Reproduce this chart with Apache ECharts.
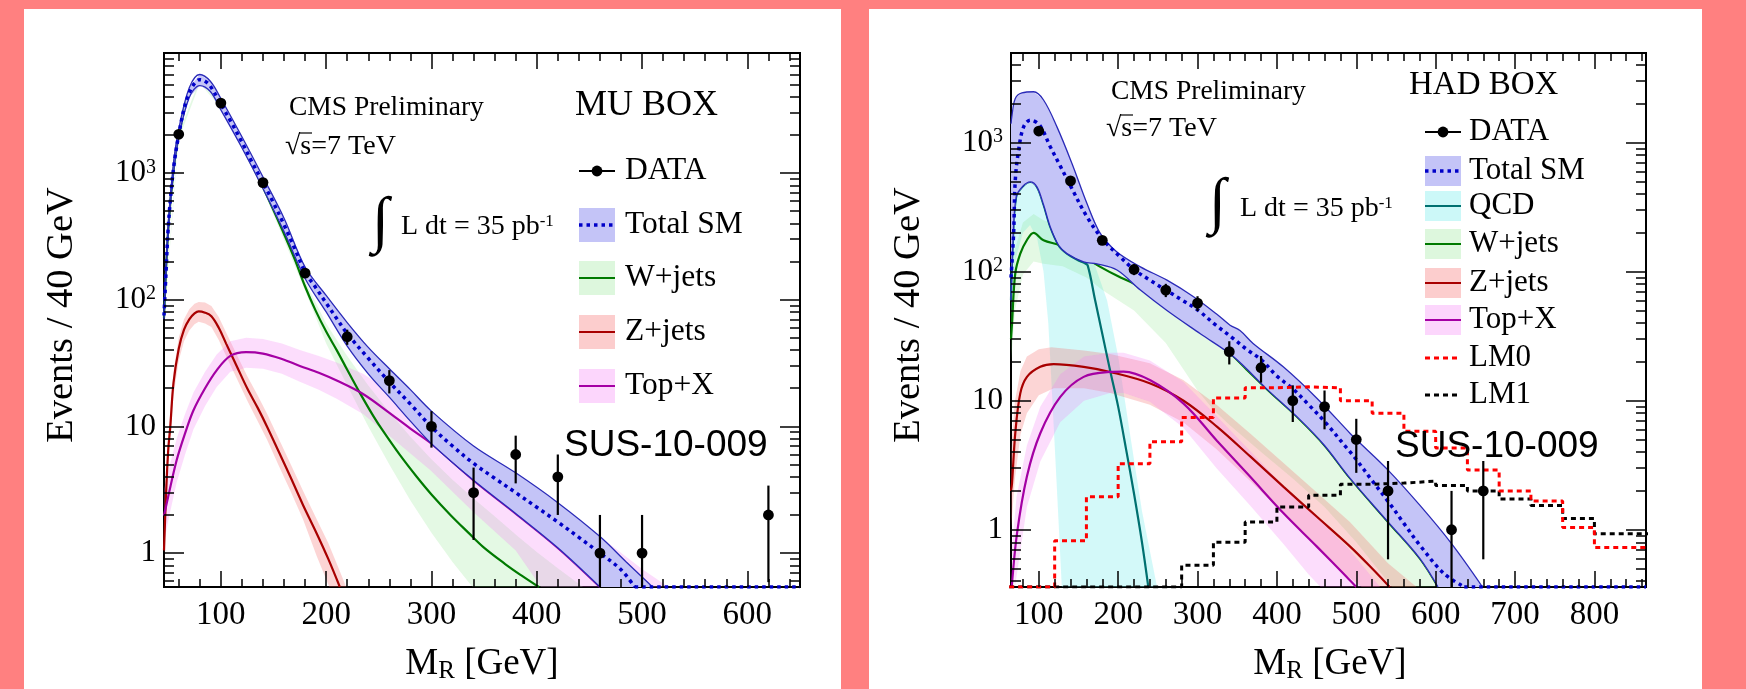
<!DOCTYPE html>
<html><head><meta charset="utf-8">
<script src="https://cdn.jsdelivr.net/npm/echarts@6/dist/echarts.min.js"></script>
<style>
html,body{margin:0;padding:0;background:#ff8080;overflow:hidden;}
#p1{position:absolute;left:24px;top:9px;width:817px;height:680px;background:#fff;}
#p2{position:absolute;left:869px;top:9px;width:833px;height:680px;background:#fff;}
#c{position:absolute;left:0;top:0;width:1746px;height:689px;}
</style>
</head><body><div id="p1"></div><div id="p2"></div><div id="c"></div>
<script>
// ================= MU BOX (left) =================
const muXRange = [46, 650];
const muYRange = [0.54, 8850];
const muXMajor = [100, 200, 300, 400, 500, 600];
const muXMinor = [60, 80, 120, 140, 160, 180, 220, 240, 260, 280, 320, 340, 360, 380, 420, 440, 460, 480, 520, 540, 560, 580, 620, 640];
const muYMajor = [1, 10, 100, 1000];
const muYMinor = [0.6, 0.7, 0.8, 0.9, 2, 3, 4, 5, 6, 7, 8, 9, 20, 30, 40, 50, 60, 70, 80, 90, 200, 300, 400, 500, 600, 700, 800, 900, 2000, 3000, 4000, 5000, 6000, 7000, 8000];

const muX = [60, 100, 140, 180, 220, 260, 300, 340, 380, 420, 460, 500, 620];
const muY = [2020, 3560, 840, 162, 51, 23, 10, 3, 6, 4, 1, 1, 2];
const muYLo = [1975, 3500, 811, 149, 44, 18.2, 6.8, 1.27, 3.55, 2, 0, 0, 0.59];
const muYHi = [2065, 3620, 869, 175, 58, 27.8, 13.2, 4.73, 8.45, 6, 2, 2, 3.41];

const muTotal = [[46,75],[48,170],[50,370],[53,750],[56,1250],[60,2000],[65,3200],[70,4300],[75,5100],[80,5450],[85,5300],[90,4850],[100,3500],[110,2500],[120,1750],[130,1200],[140,840],[150,580],[160,390],[170,255],[180,165],[190,125],[200,94],[210,71],[220,54],[240,34.5],[260,22.4],[280,15],[300,9.9],[320,7],[340,5.1],[360,3.9],[380,3.0],[400,2.3],[420,1.76],[440,1.33],[460,1.0],[480,0.74],[493,0.54]];
const muTotalFloor = [[493,0.54],[650,0.54]];
const muTotUp = [[46,80],[50,400],[55,1200],[60,2220],[70,4700],[80,5990],[90,5300],[100,3870],[120,1930],[140,930],[160,440],[180,181],[200,108],[220,66],[240,42],[260,28.5],[280,19.5],[300,13.2],[340,7.0],[380,4.3],[420,2.5],[460,1.35],[485,0.85],[510,0.54]];
const muTotLo = [[46,70],[50,340],[55,1000],[60,1930],[70,3950],[80,4900],[90,4400],[100,3150],[120,1580],[140,755],[160,345],[180,147],[200,80],[220,43],[240,26],[260,17],[280,11],[300,7.3],[340,3.75],[380,2.05],[420,1.1],[460,0.54]];

const muW = [[46,72],[50,355],[55,1050],[60,1950],[70,4200],[80,5300],[90,4700],[100,3350],[120,1650],[140,770],[160,330],[170,210],[180,127],[190,82],[200,56],[210,40],[220,28],[232,18.4],[245,12],[254,9.2],[270,5.95],[286,4.0],[300,2.9],[318,2.0],[335,1.45],[349,1.12],[370,0.82],[385,0.67],[402,0.54]];
const muWUp = [[46,76],[60,2050],[80,5500],[100,3450],[140,800],[180,140],[200,65],[220,36],[240,21],[260,13],[280,8.3],[300,5.5],[320,3.8],[340,2.7],[360,1.95],[380,1.4],[400,1.02],[420,0.76],[444,0.54]];
const muWLo = [[46,68],[60,1850],[80,5100],[100,3250],[140,740],[180,118],[200,45],[220,21],[240,10],[260,5.0],[280,2.6],[300,1.45],[320,0.85],[339,0.54]];

const muZ = [[46,1.05],[48,3],[50,6.5],[52,10],[55,22],[60,41],[65,58],[70,70],[75,78],[79,81],[85,79],[91,74],[98,60],[105,45],[115,30],[125,20],[135,14],[144,9.9],[155,6.3],[166,4.0],[178,2.4],[191,1.43],[202,0.9],[213,0.54]];
const muZUp = [[46,1.3],[50,8],[55,27],[60,50],[65,70],[70,84],[75,93],[79,96],[85,95],[91,89],[98,73],[105,55],[115,37],[125,25],[135,17.5],[144,12.5],[155,8],[166,5.1],[178,3.1],[191,1.85],[202,1.2],[213,0.72],[219,0.54]];
const muZLo = [[46,0.85],[50,5.3],[55,17.5],[60,33],[65,47],[70,57],[75,64],[79,67],[85,65],[91,61],[98,48],[105,36],[115,24],[125,16],[135,11],[144,7.8],[155,4.9],[166,3.1],[178,1.85],[191,0.95],[203,0.54]];

const muTop = [[46,1.98],[50,2.8],[58,5.4],[66,8.8],[74,13.4],[85,20],[96,27.7],[109,36],[124,38.5],[140,37.5],[158,34],[175,30],[193,26.5],[210,23],[235,18],[261,12.6],[280,9.6],[300,7.3],[340,3.75],[380,2.05],[420,1.1],[460,0.54]];
const muTopUp = [[46,3.2],[50,4.4],[58,8],[66,12.5],[74,18.5],[85,27],[96,37],[109,47],[124,50],[140,49],[158,45],[175,40],[193,36],[210,32],[235,26],[261,19],[280,15],[299,11.8],[340,6.8],[380,4.0],[420,2.4],[460,1.35],[500,0.75],[525,0.54]];
const muTopLo = [[46,1.2],[50,1.8],[58,3.6],[66,6.0],[74,9.5],[85,14.5],[96,20.5],[109,27],[124,29],[140,28.5],[158,26],[175,22.5],[193,19.5],[210,16.5],[235,12.5],[261,8.3],[280,6.1],[299,4.5],[340,2.1],[380,1.05],[404,0.54]];

// ================= HAD BOX (right) =================
const hadXRange = [65, 865];
const hadYRange = [0.36, 4950];
const hadXMajor = [100, 200, 300, 400, 500, 600, 700, 800];
const hadXMinor = [80, 120, 140, 160, 180, 220, 240, 260, 280, 320, 340, 360, 380, 420, 440, 460, 480, 520, 540, 560, 580, 620, 640, 660, 680, 720, 740, 760, 780, 820, 840, 860];
const hadYMajor = [1, 10, 100, 1000];
const hadYMinor = [0.4, 0.5, 0.6, 0.7, 0.8, 0.9, 2, 3, 4, 5, 6, 7, 8, 9, 20, 30, 40, 50, 60, 70, 80, 90, 200, 300, 400, 500, 600, 700, 800, 900, 2000, 3000, 4000];

const hadX = [100, 140, 180, 220, 260, 300, 340, 380, 420, 460, 500, 540, 620, 660];
const hadY = [1230, 505, 175, 104, 72, 57, 24, 18, 10, 9, 5, 2, 1, 2];
const hadYLo = [1195, 483, 162, 94, 63.5, 49.5, 19.1, 13.8, 6.84, 6, 2.76, 0.59, 0, 0.59];
const hadYHi = [1265, 527, 188, 114, 80.5, 64.5, 28.9, 22.2, 13.16, 12, 7.24, 3.41, 2, 3.41];

const hadTotal = [[65,90],[68.3,198],[70.4,513],[74.6,875],[80.9,1325],[89.3,1494],[101,1367],[114.5,929],[127,660],[140.6,454],[160.7,266],[181.6,175],[202.7,130],[220.7,103],[240,86],[260,72],[281,60],[301,50],[322,39],[343,31],[362,25],[381,20.6],[400,15.5],[420,12.4],[440,9.3],[460,6.9],[488,4.3],[500,3.5],[520,2.4],[540,1.66],[560,1.12],[580,0.76],[610,0.46],[636,0.36]];
const hadTotalFloor = [[636,0.36],[865,0.36]];
const hadTotUp = [[65,1400],[66,1585],[70.4,2200],[78.8,2430],[93.5,2480],[106,2140],[122.9,1325],[141.8,690],[160.7,338],[177.5,198],[198.5,142],[228,109],[261.5,86],[295,64],[324,47],[341,38.5],[353.5,35],[370,27.8],[408,18.3],[450,10.5],[492,5.6],[500,5.0],[540,2.9],[580,1.55],[620,0.78],[659,0.36]];
const hadTotLo = [[65,60],[67,150],[71.5,380],[80,460],[89.3,497],[97.7,454],[106,330],[114.5,222],[125,160],[135.5,138],[156.5,119],[173.3,115],[198.5,103],[228,72],[261.5,50],[303.5,33],[345.4,21.9],[387.4,12.3],[429.4,7.1],[460,4.5],[492.3,2.5],[540,1.15],[580,0.6],[603,0.36]];

const hadQCD = [[65,60],[67,150],[71.5,380],[80,460],[89.3,497],[97.7,454],[106,330],[114.5,222],[125,160],[135.5,138],[150,122],[157,117],[161.6,112],[171,60],[180,33],[190,17],[200,9],[210,4.2],[220,1.9],[230,0.8],[238,0.36]];
const hadQCDUp = [[65,250],[70,450],[80,560],[89,600],[98,540],[106,420],[115,300],[125,220],[140,170],[157,140],[170,115],[186,60],[200,22],[215,5.5],[230,1.4],[249,0.36]];
const hadQCDLo = [[65,40],[70,120],[80,200],[89,230],[98,180],[106,100],[112,40],[118,8],[124,1.5],[129,0.36]];

const hadW = [[65,30],[66.3,40],[70.4,97],[76.7,138],[85.1,176],[93.5,200],[106,175],[127,160],[156.5,130],[177.5,109],[200,92],[219.4,81],[240,68],[261.5,57],[282,46],[303.5,37],[325,28.5],[345.4,22],[362,17.4],[387.4,12.3],[429.4,7.1],[460,4.5],[492.3,2.5],[540,1.15],[580,0.6],[603,0.36]];
const hadWUp = [[65,40],[70,150],[80,240],[93.5,280],[106,250],[130,220],[160,170],[180,140],[220,108],[260,80],[300,56],[345,33],[380,20],[420,11],[460,5.6],[500,2.7],[540,1.25],[580,0.6],[603,0.36]];
const hadWLo = [[65,20],[70,50],[80,95],[93.5,120],[106,115],[130,110],[160,90],[180,72],[220,50],[260,28],[300,12],[320,8.5],[340,6.5],[380,4],[420,2.5],[460,1.5],[500,0.8],[545,0.36]];

const hadZ = [[65,2.0],[66.3,2.3],[70.4,5.6],[76.7,11.4],[85.1,15.3],[101.9,18.3],[118.7,19.2],[156.5,18.3],[190,16.7],[240.5,13.6],[282.4,10],[324.4,6.3],[366.4,3.7],[408.4,2.15],[450.4,1.26],[492.3,0.74],[520,0.5],[542,0.36]];
const hadZUp = [[65,4],[70,10],[77,17],[85,22],[100,25],[116,26],[157,24.5],[190,23],[240,19.5],[282,14.5],[324,9.3],[366,5.6],[408,3.3],[450,1.95],[492,1.15],[540,0.55],[576,0.36]];
const hadZLo = [[65,1],[70,2.5],[77,5.5],[85,8],[100,11],[119,12.5],[157,12.5],[190,11.5],[240,9.3],[282,6.8],[324,4.2],[366,2.4],[408,1.35],[450,0.75],[480,0.48],[507,0.36]];

const hadTop = [[66,0.36],[72.5,0.93],[85.1,2.6],[101.9,5.6],[127.1,10.7],[156.5,15.3],[190,16.7],[206.8,16.8],[240.5,14.4],[282.4,9.5],[324.4,4.9],[366.4,2.57],[408.4,1.34],[450.4,0.74],[488,0.43],[500,0.36]];
const hadTopUp = [[66,0.7],[72,1.8],[85,4.5],[102,9],[127,16],[157,22],[190,23.5],[207,23.5],[240,20.5],[282,14],[324,7.6],[366,4.1],[408,2.2],[450,1.25],[490,0.72],[530,0.36]];
const hadTopLo = [[70,0.36],[85,1.5],[102,3.4],[127,6.8],[157,10],[190,11.5],[207,11.5],[240,9.8],[282,6.2],[324,3.0],[366,1.55],[408,0.78],[440,0.45],[455,0.36]];

const lmEdges = [40, 80, 120, 160, 200, 240, 280, 320, 360, 400, 440, 480, 520, 560, 600, 640, 680, 720, 760, 800, 840, 880];
const lm0 = [0, 0, 0.82, 1.8, 3.25, 4.8, 7.4, 10.5, 12.6, 12.8, 12.6, 10, 8, 5.8, 4.3, 2.9, 2.0, 1.67, 1.04, 0.73, 0.73];
const lm1 = [0, 0, 0, 0, 0, 0, 0.53, 0.8, 1.15, 1.5, 1.85, 2.25, 2.3, 2.38, 2.2, 2.0, 1.73, 1.54, 1.22, 0.93, 0.93];

// ================= styling =================
const SERIF = "'Liberation Serif','DejaVu Serif',serif";
const SANS = "'Liberation Sans','DejaVu Sans',sans-serif";
const C = {
  blueFill: '#c4c4f7', blueEdge: '#2a2ab8', blueDot: '#0000c8',
  wLine: '#007a00', wFill: 'rgba(120,225,120,0.2)',
  zLine: '#a80000', zFill: 'rgba(245,100,100,0.27)',
  tLine: '#a400a4', tFill: 'rgba(245,120,245,0.25)',
  qLine: '#007070', qFill: 'rgba(110,235,235,0.3)',
  lm0: '#ff0000', lm1: '#000000'
};
const SMOOTH = 0.35;

function logLabel(v) {
  if (Math.abs(v - 1) < 1e-9) return '1';
  if (Math.abs(v - 10) < 1e-9) return '10';
  return '10{sup|' + Math.round(Math.log10(v)) + '}';
}
const tickStyle = { color: '#000', width: 1.5 };
function xAxesFor(gi, range, majors, minors) {
  const base = { type: 'value', gridIndex: gi, min: range[0], max: range[1], splitLine: { show: false }, axisLine: { show: false }, z: 10 };
  return [
    Object.assign({}, base, { position: 'bottom', axisTick: { show: true, inside: true, length: 16, customValues: majors, lineStyle: tickStyle },
      axisLabel: { show: true, customValues: majors, margin: 12, fontSize: 33, fontFamily: SERIF, color: '#000' } }),
    Object.assign({}, base, { position: 'bottom', axisTick: { show: true, inside: true, length: 8, customValues: minors, lineStyle: tickStyle }, axisLabel: { show: false } }),
    Object.assign({}, base, { position: 'top', axisTick: { show: true, inside: true, length: 16, customValues: majors, lineStyle: tickStyle }, axisLabel: { show: false } }),
    Object.assign({}, base, { position: 'top', axisTick: { show: true, inside: true, length: 8, customValues: minors, lineStyle: tickStyle }, axisLabel: { show: false } })
  ];
}
function yAxesFor(gi, range, majors, minors) {
  const base = { type: 'log', logBase: 10, gridIndex: gi, min: range[0], max: range[1], splitLine: { show: false }, axisLine: { show: false }, z: 10 };
  return [
    Object.assign({}, base, { position: 'left', axisTick: { show: true, inside: true, length: 20, customValues: majors, lineStyle: tickStyle },
      axisLabel: { show: true, customValues: majors, margin: 8, fontSize: 31, fontFamily: SERIF, color: '#000', formatter: logLabel,
        rich: { sup: { fontSize: 20, fontFamily: SERIF, color: '#000', verticalAlign: 'top', lineHeight: 20 } } } }),
    Object.assign({}, base, { position: 'left', axisTick: { show: true, inside: true, length: 10, customValues: minors, lineStyle: tickStyle }, axisLabel: { show: false } }),
    Object.assign({}, base, { position: 'right', axisTick: { show: true, inside: true, length: 20, customValues: majors, lineStyle: tickStyle }, axisLabel: { show: false } }),
    Object.assign({}, base, { position: 'right', axisTick: { show: true, inside: true, length: 10, customValues: minors, lineStyle: tickStyle }, axisLabel: { show: false } })
  ];
}

function bandSeries(up, lo, fill, ai, z) {
  return {
    type: 'custom', xAxisIndex: ai, yAxisIndex: ai, z: z, silent: true,
    data: [[up[0][0], up[0][1]]], encode: { x: 0, y: 1 },
    renderItem: function (params, api) {
      const cs = params.coordSys;
      const pts = up.map(p => api.coord(p)).concat(lo.slice().reverse().map(p => api.coord(p)));
      const cl = pts.map(q => [Math.min(Math.max(q[0], cs.x), cs.x + cs.width), Math.min(Math.max(q[1], cs.y), cs.y + cs.height)]);
      return { type: 'polygon', shape: { points: cl }, style: { fill: fill } };
    }
  };
}
function lineSeries(d, color, width, dash, ai, z, smooth) {
  return { type: 'line', data: d, xAxisIndex: ai, yAxisIndex: ai, z: z, silent: true, symbol: 'none', showSymbol: false,
    smooth: smooth === undefined ? SMOOTH : smooth, clip: true,
    lineStyle: { color: color, width: width, type: dash || 'solid', cap: 'butt' } };
}
function histSeries(edges, vals, yMin, color, ai, z) {
  const d = vals.map((v, i) => [edges[i], v > 0 ? v : yMin]);
  d.push([edges[edges.length - 1], d[d.length - 1][1]]);
  return { type: 'line', step: 'end', data: d, xAxisIndex: ai, yAxisIndex: ai, z: z, silent: true, symbol: 'none', showSymbol: false, clip: true,
    lineStyle: { color: color, width: 3, type: [5, 4] } };
}
function dataSeries(xs, ys, los, his, yMin, ai) {
  return {
    type: 'custom', xAxisIndex: ai, yAxisIndex: ai, z: 9, silent: true, encode: { x: 0, y: 1 },
    data: xs.map((x, i) => [x, ys[i], los[i], his[i]]),
    renderItem: function (params, api) {
      const x = api.value(0), y = api.value(1), lo = Math.max(api.value(2), yMin), hi = api.value(3);
      const c = api.coord([x, y]), a = api.coord([x, lo]), b = api.coord([x, hi]);
      return { type: 'group', children: [
        { type: 'line', shape: { x1: a[0], y1: a[1], x2: b[0], y2: b[1] }, style: { stroke: '#000', lineWidth: 2.2 } },
        { type: 'circle', shape: { cx: c[0], cy: c[1], r: 5.4 }, style: { fill: '#000' } }
      ] };
    }
  };
}

const series = [
  // left
  bandSeries(muWUp, muWLo, C.wFill, 0, 1),
  bandSeries(muZUp, muZLo, C.zFill, 0, 1),
  bandSeries(muTopUp, muTopLo, C.tFill, 0, 1),
  lineSeries(muW, C.wLine, 2.2, null, 0, 2),
  lineSeries(muZ, C.zLine, 2.2, null, 0, 2),
  lineSeries(muTop, C.tLine, 2.2, null, 0, 2),
  bandSeries(muTotUp, muTotLo, C.blueFill, 0, 3),
  lineSeries(muTotUp, C.blueEdge, 1.3, null, 0, 4),
  lineSeries(muTotLo, C.blueEdge, 1.3, null, 0, 4),
  lineSeries(muTotal, C.blueDot, 3.5, [3.5, 4], 0, 5),
  lineSeries(muTotalFloor, C.blueDot, 3.5, [3.5, 4], 0, 5, false),
  dataSeries(muX, muY, muYLo, muYHi, muYRange[0], 0),
  // right
  bandSeries(hadQCDUp, hadQCDLo, C.qFill, 4, 1),
  bandSeries(hadWUp, hadWLo, C.wFill, 4, 1),
  bandSeries(hadZUp, hadZLo, C.zFill, 4, 1),
  bandSeries(hadTopUp, hadTopLo, C.tFill, 4, 1),
  lineSeries(hadQCD, C.qLine, 2.2, null, 4, 2),
  lineSeries(hadW, C.wLine, 2.2, null, 4, 2),
  lineSeries(hadZ, C.zLine, 2.2, null, 4, 2),
  lineSeries(hadTop, C.tLine, 2.2, null, 4, 2),
  bandSeries(hadTotUp, hadTotLo, C.blueFill, 4, 3),
  lineSeries(hadTotUp, C.blueEdge, 1.3, null, 4, 4),
  lineSeries(hadTotLo, C.blueEdge, 1.3, null, 4, 4),
  lineSeries(hadTotal, C.blueDot, 3.5, [3.5, 4], 4, 5),
  lineSeries(hadTotalFloor, C.blueDot, 3.5, [3.5, 4], 4, 5, false),
  histSeries(lmEdges, lm1, hadYRange[0], C.lm1, 4, 6),
  histSeries(lmEdges, lm0, hadYRange[0], C.lm0, 4, 7),
  dataSeries(hadX, hadY, hadYLo, hadYHi, hadYRange[0], 4)
];

// ================= texts & legends =================
function txt(x, y, text, size, opts) {
  opts = opts || {};
  return { type: 'text', x: x, y: y, rotation: opts.rot || 0, z: 50,
    style: { text: text, fontSize: size, fontFamily: opts.font || SERIF, fill: '#000', align: opts.align || 'left', verticalAlign: 'middle', rich: opts.rich } };
}
const supRich = { sup: { fontSize: 17, fontFamily: SERIF, fill: '#000', verticalAlign: 'top', lineHeight: 14 } };
const subRich = { sub: { fontSize: 25, fontFamily: SERIF, fill: '#000', verticalAlign: 'bottom', lineHeight: 20 }, m: { fontSize: 37, fontFamily: SERIF, fill: '#000', lineHeight: 40 } };

function legend(x0, x1, tx, h, fs, entries) {
  const out = [];
  entries.forEach(e => {
    const cy = e.y, mid = (x0 + x1) / 2;
    if (e.fill) out.push({ type: 'rect', z: 50, shape: { x: x0, y: cy - h / 2, width: x1 - x0, height: h }, style: { fill: e.fill } });
    if (e.kind === 'data') {
      out.push({ type: 'line', z: 51, shape: { x1: x0, y1: cy, x2: x1, y2: cy }, style: { stroke: '#000', lineWidth: 2.2 } });
      out.push({ type: 'circle', z: 51, shape: { cx: mid, cy: cy, r: 5.4 }, style: { fill: '#000' } });
    } else {
      out.push({ type: 'line', z: 51, shape: { x1: x0, y1: cy, x2: x1, y2: cy }, style: { stroke: e.color, lineWidth: e.w || 2.2, lineDash: e.dash || null } });
    }
    out.push(txt(tx, cy, e.label, fs));
  });
  return out;
}

const graphics = [].concat(
  // ---- left panel texts ----
  [
    txt(289, 108, 'CMS Preliminary', 27.5),
    txt(285, 147, '√s=7 TeV', 28),
    { type: 'line', z: 50, shape: { x1: 299, y1: 133, x2: 312, y2: 133 }, style: { stroke: '#000', lineWidth: 1.2 } },
    txt(372, 224, '∫', 62),
    txt(401, 227, 'L dt = 35 pb{sup|-1}', 28, { rich: supRich }),
    txt(575, 106, 'MU BOX', 36),
    txt(564, 446, 'SUS-10-009', 37, { font: SANS }),
    txt(62, 315, 'Events / 40 GeV', 38.5, { rot: Math.PI / 2, align: 'center' }),
    txt(482, 664, '{m|M}{sub|R}{m| [GeV]}', 37, { align: 'center', rich: subRich })
  ],
  legend(579, 615, 625, 34, 31.5, [
    { label: 'DATA', y: 171, kind: 'data' },
    { label: 'Total SM', y: 225, fill: C.blueFill, color: C.blueDot, w: 3.5, dash: [3.5, 4] },
    { label: 'W+jets', y: 278, fill: 'rgba(120,225,120,0.25)', color: C.wLine },
    { label: 'Z+jets', y: 332, fill: 'rgba(245,100,100,0.32)', color: C.zLine },
    { label: 'Top+X', y: 386, fill: 'rgba(245,120,245,0.3)', color: C.tLine }
  ]),
  // ---- right panel texts ----
  [
    txt(1111, 92, 'CMS Preliminary', 27.5),
    txt(1106, 129, '√s=7 TeV', 28),
    { type: 'line', z: 50, shape: { x1: 1120, y1: 115, x2: 1133, y2: 115 }, style: { stroke: '#000', lineWidth: 1.2 } },
    txt(1209, 205, '∫', 62),
    txt(1240, 209, 'L dt = 35 pb{sup|-1}', 28, { rich: supRich }),
    txt(1409, 85, 'HAD BOX', 33),
    txt(1395, 447, 'SUS-10-009', 37, { font: SANS }),
    txt(909, 315, 'Events / 40 GeV', 38.5, { rot: Math.PI / 2, align: 'center' }),
    txt(1330, 664, '{m|M}{sub|R}{m| [GeV]}', 37, { align: 'center', rich: subRich })
  ],
  legend(1425, 1461, 1469, 30, 31, [
    { label: 'DATA', y: 132, kind: 'data' },
    { label: 'Total SM', y: 171, fill: C.blueFill, color: C.blueDot, w: 3.5, dash: [3.5, 4] },
    { label: 'QCD', y: 206, fill: 'rgba(110,235,235,0.35)', color: C.qLine },
    { label: 'W+jets', y: 244, fill: 'rgba(120,225,120,0.25)', color: C.wLine },
    { label: 'Z+jets', y: 283, fill: 'rgba(245,100,100,0.32)', color: C.zLine },
    { label: 'Top+X', y: 320, fill: 'rgba(245,120,245,0.3)', color: C.tLine },
    { label: 'LM0', y: 358, color: C.lm0, w: 3, dash: [5, 4] },
    { label: 'LM1', y: 395, color: C.lm1, w: 3, dash: [5, 4] }
  ])
);

const option = {
  animation: false,
  backgroundColor: 'transparent',
  grid: [
    { left: 164, top: 53, width: 636, height: 534, show: true, borderColor: '#000', borderWidth: 2, backgroundColor: 'transparent', containLabel: false },
    { left: 1011, top: 53, width: 635, height: 534, show: true, borderColor: '#000', borderWidth: 2, backgroundColor: 'transparent', containLabel: false }
  ],
  xAxis: xAxesFor(0, muXRange, muXMajor, muXMinor).concat(xAxesFor(1, hadXRange, hadXMajor, hadXMinor)),
  yAxis: yAxesFor(0, muYRange, muYMajor, muYMinor).concat(yAxesFor(1, hadYRange, hadYMajor, hadYMinor)),
  series: series,
  graphic: { elements: graphics }
};
const chart = echarts.init(document.getElementById('c'), null, { renderer: 'canvas', width: 1746, height: 689 });
chart.setOption(option);
</script>
</body></html>
